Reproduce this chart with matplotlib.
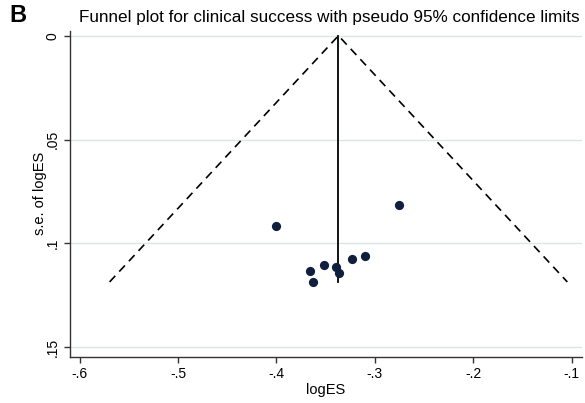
import numpy as np
import matplotlib
matplotlib.use("Agg")
import matplotlib.pyplot as plt

plt.rcParams['font.family'] = ['Liberation Sans', 'DejaVu Sans']

# Study effect sizes (log scale) and their standard errors
log_es = [-0.4006, -0.2750, -0.3654, -0.3630, -0.3515, -0.3390, -0.3366, -0.3234, -0.3096]
se_log_es = [0.0917, 0.0815, 0.1135, 0.1186, 0.1105, 0.1116, 0.1145, 0.1074, 0.1063]
pooled = -0.337

x_ticks = [-0.6, -0.5, -0.4, -0.3, -0.2, -0.1]
x_tick_labels = ['-.6', '-.5', '-.4', '-.3', '-.2', '-.1']
y_ticks = [0, 0.05, 0.1, 0.15]
y_tick_labels = ['0', '.05', '.1', '.15']

fig = plt.figure(figsize=(5.85, 4.03), dpi=100)
ax = fig.add_axes([0.1191, 0.1149, 0.876, 0.8094])

# Pseudo 95% confidence limits
se_max = max(se_log_es)
z = 1.96
ax.plot([pooled - z * se_max, pooled, pooled + z * se_max], [se_max, 0, se_max],
        color='black', linestyle=(0, (5, 3.5)), linewidth=1.2, zorder=2)
ax.plot([pooled, pooled], [0, se_max], color='black', linewidth=1.3, zorder=2)

ax.scatter(log_es, se_log_es, s=44, color='#0f1f3d', zorder=3, linewidths=0)

ax.set_xlim(-0.610, -0.0895)
ax.set_ylim(0.1546, -0.0025)

ax.set_xticks(x_ticks)
ax.set_xticklabels(x_tick_labels, fontsize=10)
ax.set_yticks(y_ticks)
ax.set_yticklabels(y_tick_labels, fontsize=10, rotation=90, va='center')

ax.grid(axis='y', color='#dbe6ea', linewidth=1.0, zorder=0)
ax.tick_params(axis='both', direction='out', length=4.5, width=1.0, color='#333333', pad=3)
for side in ('top', 'right'):
    ax.spines[side].set_visible(False)
for side in ('left', 'bottom'):
    ax.spines[side].set_color('#333333')
    ax.spines[side].set_linewidth(1.0)

ax.set_xlabel('logES', fontsize=10.5, labelpad=1)
ax.set_ylabel('s.e. of logES', fontsize=10.5, labelpad=-1)

fig.text(0.563, 0.975, 'Funnel plot for clinical success with pseudo 95% confidence limits',
         fontsize=12.3, ha='center', va='top')
fig.text(0.016, 0.99, 'B', fontsize=17, fontweight='bold', ha='left', va='top')

fig.savefig('out.png', dpi=100, facecolor='white')
